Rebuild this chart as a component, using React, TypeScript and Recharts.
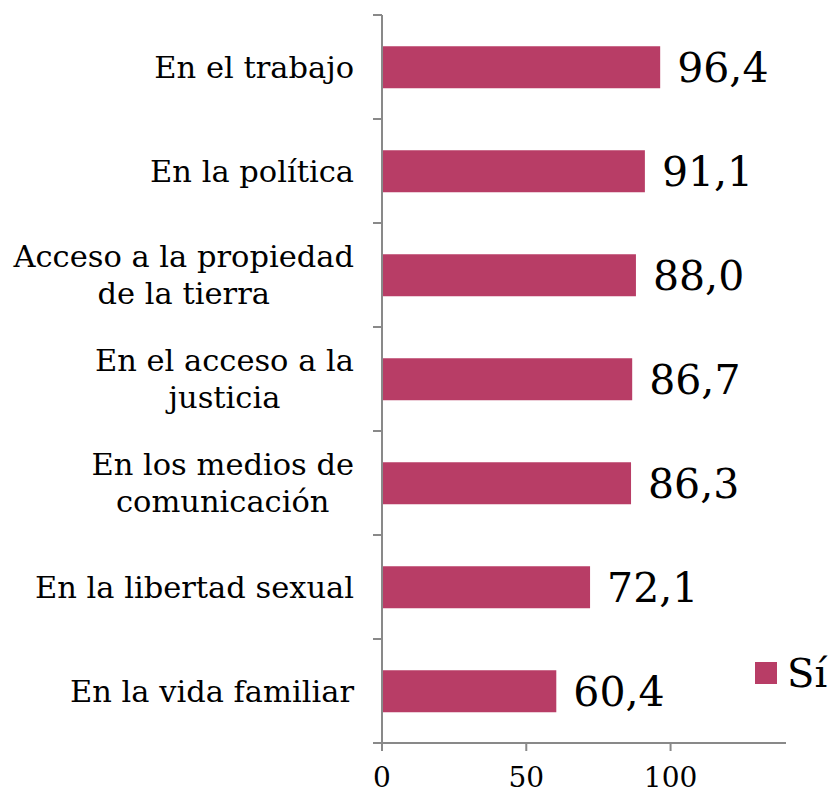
import { Bar, BarChart, LabelList, Legend, XAxis, YAxis } from "recharts";

const categories = [
  "En el trabajo",
  "En la política",
  "Acceso a la propiedad\nde la tierra",
  "En el acceso a la\njusticia",
  "En los medios de\ncomunicación",
  "En la libertad sexual",
  "En la vida familiar",
];
const siValues = [96.4, 91.1, 88.0, 86.7, 86.3, 72.1, 60.4];
const xTicks = [0, 50, 100];

const data = categories.map((name, i) => ({ name, si: siValues[i] }));

const FONT = "DejaVu Serif";
const BAR_COLOR = "#B83D66";
const AXIS_COLOR = "#898989";
const LABEL_SIZE = 30.5;
const LINE_HEIGHT = 37;

let ctx: CanvasRenderingContext2D | null = null;
function textWidth(s: string) {
  if (!ctx) ctx = document.createElement("canvas").getContext("2d");
  if (!ctx) return s.length * LABEL_SIZE * 0.55;
  ctx.font = `${LABEL_SIZE}px "${FONT}"`;
  return ctx.measureText(s).width;
}

// category labels, centred line by line inside a right-aligned block,
// plus the boundary tick marks between categories
function CategoryTick(props: any) {
  const { x, y, payload } = props;
  const lines: string[] = String(payload.value).split("\n");
  const half = payload.offset ?? 0;
  const axisX = x + 28;
  const block = Math.max(...lines.map(textWidth));
  const cx = x - block / 2;
  const firstY = y - ((lines.length - 1) * LINE_HEIGHT) / 2;
  return (
    <g>
      <line x1={axisX - 9} x2={axisX} y1={y - half} y2={y - half} stroke={AXIS_COLOR} strokeWidth={2} />
      <line x1={axisX - 9} x2={axisX} y1={y + half} y2={y + half} stroke={AXIS_COLOR} strokeWidth={2} />
      <text textAnchor="middle" fontFamily={FONT} fontSize={LABEL_SIZE} fill="#000">
        {lines.map((l, i) => (
          <tspan key={i} x={cx} y={firstY + i * LINE_HEIGHT} dy="0.36em">
            {l}
          </tspan>
        ))}
      </text>
    </g>
  );
}

function LegendContent() {
  return (
    <div style={{ display: "flex", alignItems: "center", fontFamily: FONT, fontSize: 40 }}>
      <span style={{ width: 22, height: 22, background: BAR_COLOR, display: "inline-block", marginRight: 10 }} />
      <span>Sí</span>
    </div>
  );
}

export default function App() {
  return (
    <div style={{ position: "absolute", left: 0, top: 0, width: 832, height: 795, background: "#fff" }}>
      <BarChart
        width={832}
        height={795}
        data={data}
        layout="vertical"
        barCategoryGap="30%"
        margin={{ top: 15, right: 46, bottom: 0, left: 0 }}
      >
        <XAxis
          type="number"
          domain={[0, 140]}
          ticks={xTicks}
          height={52}
          axisLine={{ stroke: AXIS_COLOR, strokeWidth: 2 }}
          tickLine={{ stroke: AXIS_COLOR, strokeWidth: 2 }}
          tickSize={8}
          tickMargin={16}
          tick={{ fontFamily: FONT, fontSize: 28, fill: "#000" }}
        />
        <YAxis
          type="category"
          dataKey="name"
          width={382}
          axisLine={{ stroke: AXIS_COLOR, strokeWidth: 2 }}
          tickLine={false}
          tickSize={9}
          tickMargin={19}
          interval={0}
          tick={<CategoryTick />}
        />
        <Legend
          layout="vertical"
          align="center"
          verticalAlign="middle"
          content={<LegendContent />}
          wrapperStyle={{ position: "absolute", left: 755, top: 650, width: 80 }}
        />
        <Bar dataKey="si" name="Sí" fill={BAR_COLOR} isAnimationActive={false}>
          <LabelList
            dataKey="si"
            position="right"
            offset={17}
            formatter={(v: any) => Number(v).toFixed(1).replace(".", ",")}
            style={{ fontFamily: FONT, fontSize: 41, fill: "#000" }}
          />
        </Bar>
      </BarChart>
    </div>
  );
}
